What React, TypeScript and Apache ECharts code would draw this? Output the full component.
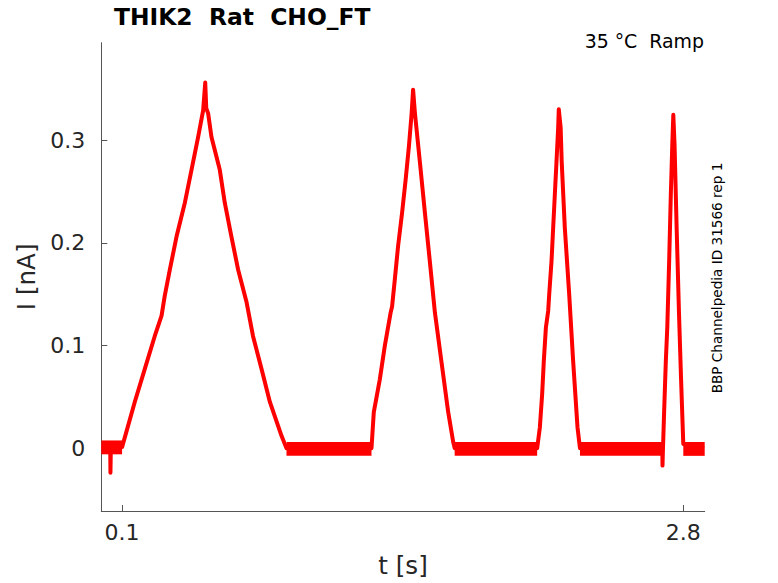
import React, { useEffect, useRef } from "react";
import * as echarts from "echarts";

// ---- data ----
const traceT: number[] = [
  0, 0.043, 0.044, 0.046, 0.1,
  0.161, 0.209, 0.257, 0.29, 0.305, 0.33, 0.362, 0.402, 0.434, 0.466, 0.49, 0.5, 0.505, 0.514,
  0.53, 0.57, 0.594, 0.626, 0.658, 0.699, 0.73, 0.771, 0.811, 0.867, 0.891,
  1.3, 1.311, 1.34, 1.364, 1.392, 1.399, 1.412, 1.428, 1.447, 1.464, 1.48, 1.493, 1.5,
  1.509, 1.533, 1.557, 1.581, 1.605, 1.637, 1.669, 1.693, 1.7,
  2.097, 2.11, 2.121, 2.129, 2.139, 2.15, 2.155, 2.166, 2.174, 2.182, 2.19, 2.198, 2.201,
  2.21, 2.215, 2.23, 2.251, 2.27, 2.291, 2.303,
  2.699, 2.7, 2.702, 2.708, 2.716, 2.723, 2.732, 2.74, 2.747, 2.752,
  2.758, 2.768, 2.779, 2.789, 2.8, 2.9,
];
const traceI: number[] = [
  0.001, 0.001, -0.024, 0.001, 0.001,
  0.045, 0.077, 0.109, 0.129, 0.148, 0.174, 0.206, 0.239, 0.271, 0.303, 0.329, 0.356, 0.331, 0.326,
  0.303, 0.271, 0.239, 0.206, 0.174, 0.142, 0.109, 0.077, 0.045, 0.012, 0.0,
  0.0, 0.035, 0.067, 0.0996, 0.132, 0.138, 0.164, 0.197, 0.229, 0.261, 0.294, 0.326, 0.349,
  0.326, 0.278, 0.229, 0.181, 0.132, 0.0835, 0.035, 0.006, 0.0,
  0.0, 0.0204, 0.0527, 0.085, 0.1175, 0.1336, 0.15, 0.182, 0.2146, 0.247, 0.279, 0.312, 0.33,
  0.312, 0.279, 0.2146, 0.15, 0.085, 0.0204, 0.0,
  0.0, -0.017, -0.002, 0.0365, 0.085, 0.1175, 0.182, 0.247, 0.295, 0.3246,
  0.295, 0.2146, 0.1336, 0.069, 0.004, 0.0,
];

// noise envelope of the flat (baseline) stretches
const bandStart: number[] = [0, 0.891, 1.7, 2.303, 2.8];
const bandEnd: number[] = [0.1, 1.3, 2.097, 2.7, 2.903];
const bandLow: number[] = [-0.006, -0.0075, -0.0075, -0.0075, -0.0075];
const bandHigh: number[] = [0.0075, 0.006, 0.006, 0.006, 0.006];

const xTicks: number[] = [0.1, 2.8];
const yTicks: number[] = [0, 0.1, 0.2, 0.3];
const yTickLabels: string[] = ["0", "0.1", "0.2", "0.3"];

const titleText = "THIK2  Rat  CHO_FT";
const subText = "35 °C  Ramp";
const sideText = "BBP Channelpedia ID 31566 rep 1";

export default function App() {
  const ref = useRef<HTMLDivElement>(null);

  useEffect(() => {
    if (!ref.current) return;
    const chart = echarts.init(ref.current, null, { renderer: "svg" });
    const font = "DejaVu Sans";
    const textColor = "#262626";
    const axisColor = "#555555";

    chart.setOption({
      animation: false,
      backgroundColor: "#ffffff",
      grid: { left: 101.3, right: 73.3, top: 42.7, bottom: 70.7, containLabel: false },
      xAxis: {
        type: "value",
        min: 0,
        max: 2.903,
        name: "t [s]",
        nameLocation: "middle",
        nameGap: 42,
        nameTextStyle: { fontFamily: font, fontSize: 24.6, color: textColor },
        axisLine: { show: true, onZero: false, lineStyle: { color: axisColor, width: 1 } },
        axisTick: { show: true, inside: true, length: 6, customValues: xTicks, lineStyle: { color: axisColor } },
        axisLabel: {
          customValues: xTicks,
          margin: 10,
          fontFamily: font,
          fontSize: 22,
          color: textColor,
          formatter: (v: number) => v.toFixed(1),
        },
        splitLine: { show: false },
      },
      yAxis: {
        type: "value",
        min: -0.0612,
        max: 0.3948,
        name: "I [nA]",
        nameLocation: "middle",
        nameGap: 56,
        nameTextStyle: { fontFamily: font, fontSize: 24.6, color: textColor },
        axisLine: { show: true, onZero: false, lineStyle: { color: axisColor, width: 1 } },
        axisTick: { show: true, inside: true, length: 6, customValues: yTicks, lineStyle: { color: axisColor } },
        axisLabel: {
          customValues: yTicks,
          margin: 16,
          fontFamily: font,
          fontSize: 22,
          color: textColor,
          formatter: (v: number) => {
            const idx = yTicks.findIndex((t) => Math.abs(t - v) < 1e-9);
            return idx >= 0 ? yTickLabels[idx] : String(v);
          },
        },
        splitLine: { show: false },
      },
      graphic: [
        {
          type: "text",
          left: 114,
          top: 5,
          style: { text: titleText, font: `bold 23.4px "${font}"`, fill: "#000000" },
        },
        {
          type: "text",
          x: 704,
          y: 40.5,
          style: {
            text: subText,
            font: `18.9px "${font}"`,
            fill: "#000000",
            align: "right",
            verticalAlign: "middle",
          },
        },
        {
          type: "text",
          x: 717,
          y: 278,
          rotation: Math.PI / 2,
          style: {
            text: sideText,
            font: `13.6px "${font}"`,
            fill: "#000000",
            align: "center",
            verticalAlign: "middle",
          },
        },
      ],
      series: [
        {
          type: "line",
          data: traceT.map((t, i) => [t, traceI[i]]),
          symbol: "none",
          showSymbol: false,
          clip: true,
          lineStyle: { color: "#ff0000", width: 4, join: "round" },
          markArea: {
            silent: true,
            itemStyle: { color: "#ff0000", opacity: 1 },
            data: bandStart.map((s, i) => [
              { coord: [s, bandLow[i]] },
              { coord: [bandEnd[i], bandHigh[i]] },
            ]),
          },
        },
      ],
    });

    return () => chart.dispose();
  }, []);

  return (
    <div
      ref={ref}
      style={{ position: "absolute", left: 0, top: 0, width: 778, height: 583 }}
    />
  );
}
